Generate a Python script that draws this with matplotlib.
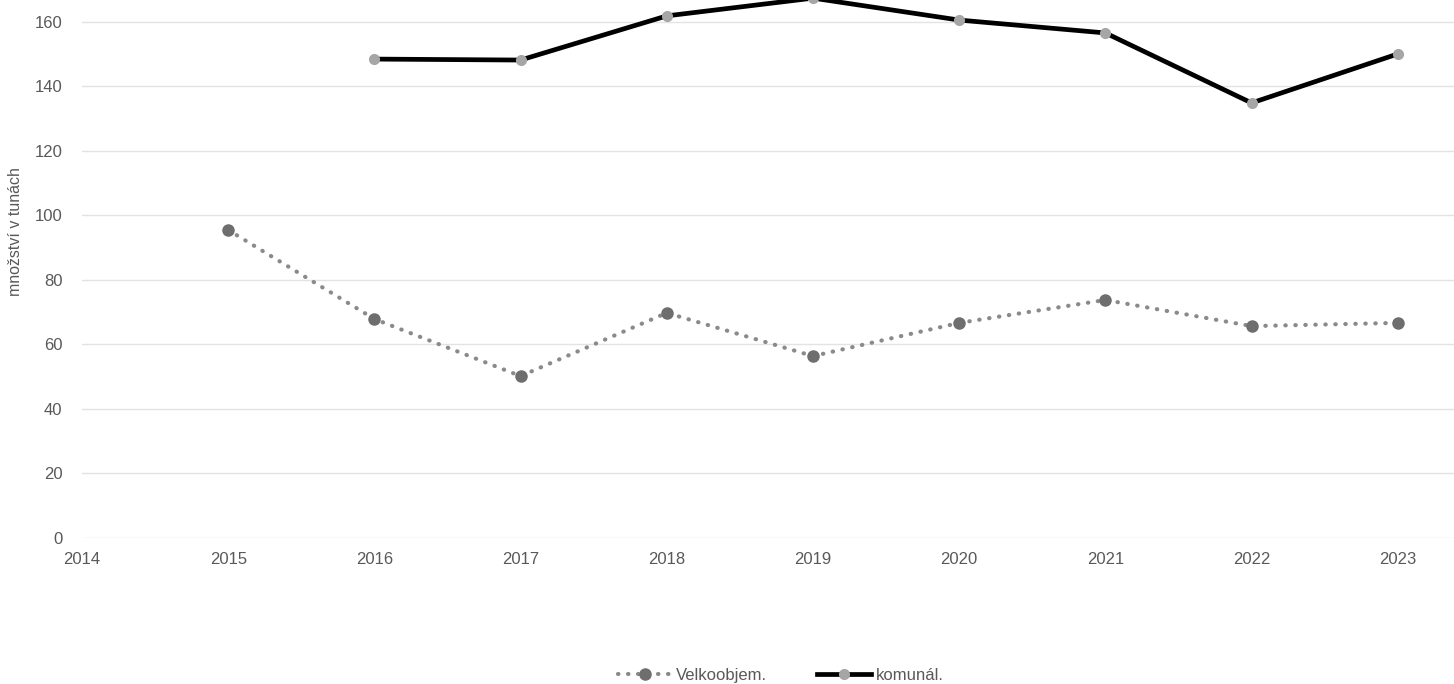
import matplotlib
matplotlib.use("Agg")
import matplotlib.pyplot as plt

roky = [2015, 2016, 2017, 2018, 2019, 2020, 2021, 2022, 2023]
velkoobjem = [95.5, 67.9, 50.2, 69.8, 56.4, 66.7, 73.8, 65.7, 66.7]
roky_kom = [2016, 2017, 2018, 2019, 2020, 2021, 2022, 2023]
komunal = [148.5, 148.2, 161.9, 167.4, 160.6, 156.6, 134.9, 150.1]

plt.rcParams['font.family'] = ['Liberation Sans Narrow', 'Liberation Sans', 'DejaVu Sans']
seda = '#595959'

fig = plt.figure(figsize=(14.54, 6.84), dpi=100)
ax = fig.add_axes([0.0564, 0.2135, 0.95, 0.7865])

l1, = ax.plot(roky, velkoobjem, color='#8a8a8a', linestyle=(0, (0.1, 2.3)), linewidth=3.0,
              dash_capstyle='round', marker='o', markersize=8, markerfacecolor='#6e6e6e',
              markeredgecolor='#6e6e6e', label='Velkoobjem.', clip_on=False)
l2, = ax.plot(roky_kom, komunal, color='black', linewidth=3.4, marker='o', markersize=7,
              markerfacecolor='#a6a6a6', markeredgecolor='#a6a6a6', label='komunál.',
              clip_on=False)

ax.set_xlim(2014, 2014 + (1454 * 0.95) / 146.2)
ax.set_ylim(0, 160 + 22 / 3.225)
ax.set_xticks(range(2014, 2024))
ax.set_yticks(range(0, 161, 20))
ax.grid(axis='y', color='#e3e3e3', linewidth=1)
ax.set_axisbelow(True)
for s in ax.spines.values():
    s.set_visible(False)
ax.tick_params(length=0, colors=seda, labelsize=12, pad=10)
ax.tick_params(axis='y', pad=14)

ax.set_ylabel('množství v tunách', color=seda, fontsize=11.5)
ax.yaxis.set_label_coords(-0.043, 0.57)

fig.legend(handles=[l1, l2], loc='center', bbox_to_anchor=(0.537, 0.012), ncol=2, frameon=False,
           fontsize=12, labelcolor=seda, handlelength=3.2, columnspacing=3.0, handletextpad=0.3)

fig.savefig('out.png', dpi=100)
